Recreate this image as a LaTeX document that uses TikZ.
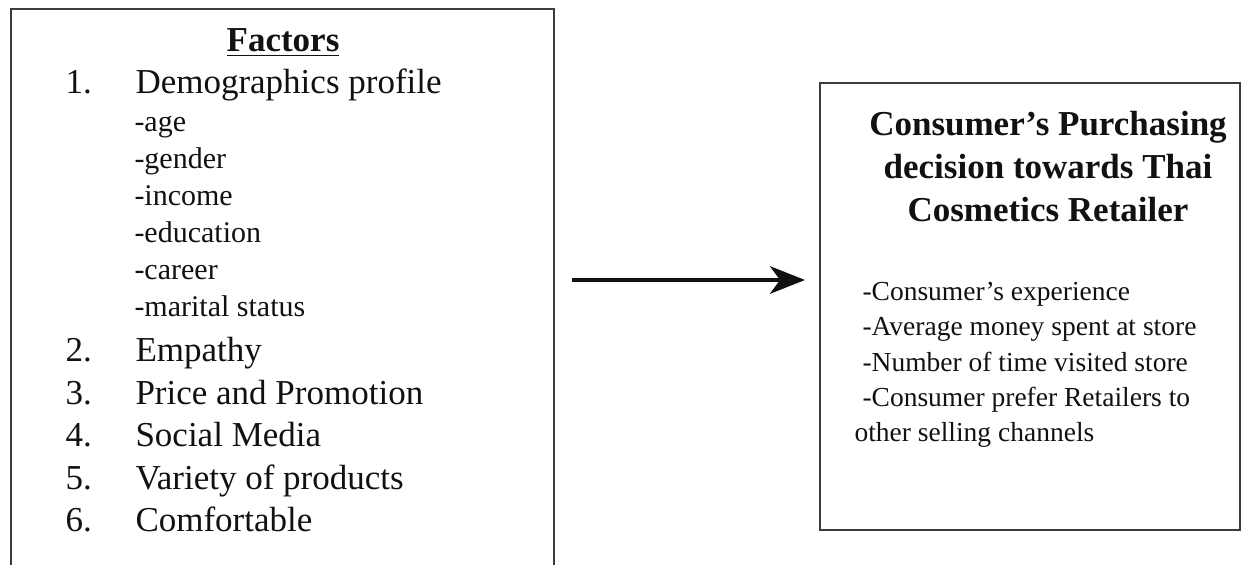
\documentclass[tikz,border=0pt]{standalone}
\usepackage{fontspec}
\setmainfont{Liberation Serif}
\usetikzlibrary{arrows.meta}
\begin{document}
\begin{tikzpicture}[x=0.4pt,y=0.4pt,
  item/.style={anchor=base west,inner sep=0pt,text=ink,font=\fontsize{14}{17}\selectfont},
  sub/.style={anchor=base west,inner sep=0pt,text=ink,font=\fontsize{12}{14}\selectfont},
  head/.style={anchor=base,inner sep=0pt,text=ink,font=\fontsize{14}{17}\selectfont\bfseries},
  point/.style={anchor=base west,inner sep=0pt,text=ink,font=\fontsize{11}{13}\selectfont}]
\definecolor{ink}{HTML}{111111}\definecolor{frame}{HTML}{3C3C3C}
\useasboundingbox (0,0) rectangle (1252,565);
% the two boxes
\draw[frame,line width=0.8pt] (11,-40) rectangle (554,556);
\draw[frame,line width=0.8pt] (820,35) rectangle (1240,482);
% left box: factors
\node[head] (factors) at (283,513) {\underline{Factors}};
\node[item] (n1) at (65,471) {1.};
\node[item] (demo) at (135,471) {Demographics profile};
\node[sub] (age) at (134,433) {-age};
\node[sub] (gender) at (134,396) {-gender};
\node[sub] (income) at (134,359) {-income};
\node[sub] (edu) at (134,322) {-education};
\node[sub] (career) at (134,285) {-career};
\node[sub] (marital) at (134,248) {-marital status};
\node[item] (n2) at (65,203) {2.};
\node[item] (empathy) at (135,203) {Empathy};
\node[item] (n3) at (65,160.5) {3.};
\node[item] (price) at (135,160.5) {Price and Promotion};
\node[item] (n4) at (65,118) {4.};
\node[item] (social) at (135,118) {Social Media};
\node[item] (n5) at (65,75.5) {5.};
\node[item] (variety) at (135,75.5) {Variety of products};
\node[item] (n6) at (65,33) {6.};
\node[item] (comfort) at (135,33) {Comfortable};
% right box: decision
\node[head] (dec1) at (1048,429) {Consumer’s Purchasing};
\node[head] (dec2) at (1048,386) {decision towards Thai};
\node[head] (dec3) at (1048,343) {Cosmetics Retailer};
\node[point] (exp) at (862,264) {-Consumer’s experience};
\node[point] (money) at (862,229) {-Average money spent at store};
\node[point] (visit) at (862,193) {-Number of time visited store};
\node[point] (prefer) at (862,158) {-Consumer prefer Retailers to};
\node[point] (other) at (854,123) {other selling channels};
% arrow
\coordinate (tail) at (572,285);
\coordinate (tip) at (805,285);
\draw[ink,line width=1.6pt,-{Stealth[length=14pt,width=11pt,inset=4pt]}] (tail) -- (tip);
\end{tikzpicture}
\end{document}
